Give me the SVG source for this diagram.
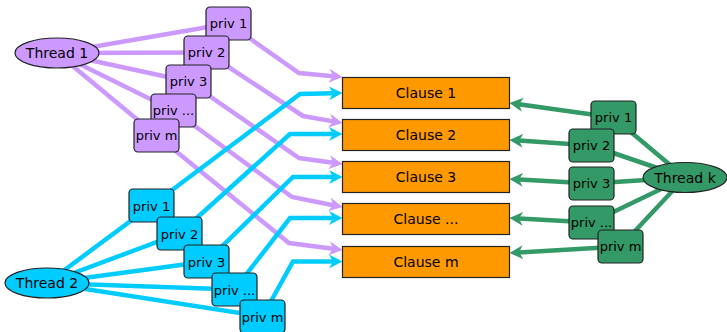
<svg xmlns="http://www.w3.org/2000/svg" width="727" height="332" viewBox="0 0 727 332">
<style>
text{font-family:"DejaVu Sans","Liberation Sans",sans-serif;fill:#000;text-anchor:middle}
.t{font-size:14px}
.p{font-size:13px}
.e{fill:none;stroke-width:4.5;stroke-linejoin:miter}
.pu{stroke:#cc99ff}
.bl{stroke:#00ccff}
.gr{stroke:#339966}
.box{stroke:#222;stroke-width:1.2}
.fpu{fill:#cc99ff}
.fbl{fill:#00ccff}
.fgr{fill:#339966}
.cl{fill:#ff9900;stroke:#222;stroke-width:1.2}
</style>
<defs>
<marker id="apu" markerUnits="userSpaceOnUse" markerWidth="15" markerHeight="16" viewBox="0 -8 15 16" refX="4" refY="0" orient="auto"><path d="M0,-7 L13.5,0 L0,7 L4,0 Z" fill="#cc99ff"/></marker>
<marker id="abl" markerUnits="userSpaceOnUse" markerWidth="15" markerHeight="16" viewBox="0 -8 15 16" refX="4" refY="0" orient="auto"><path d="M0,-7 L13.5,0 L0,7 L4,0 Z" fill="#00ccff"/></marker>
<marker id="agr" markerUnits="userSpaceOnUse" markerWidth="15" markerHeight="16" viewBox="0 -8 15 16" refX="4" refY="0" orient="auto"><path d="M0,-7 L13.5,0 L0,7 L4,0 Z" fill="#339966"/></marker>
</defs>
<g id="connectors">
<line class="e pu" x1="57" y1="53" x2="228.5" y2="23.5"/>
<line class="e pu" x1="57" y1="53" x2="206.5" y2="52.5"/>
<line class="e pu" x1="57" y1="53" x2="188.5" y2="81.5"/>
<line class="e pu" x1="57" y1="53" x2="173.5" y2="110.5"/>
<line class="e pu" x1="57" y1="53" x2="156.5" y2="135.5"/>
<line class="e bl" x1="47" y1="283" x2="151.5" y2="205.5"/>
<line class="e bl" x1="47" y1="283" x2="179.5" y2="233.5"/>
<line class="e bl" x1="47" y1="283" x2="206.5" y2="261.5"/>
<line class="e bl" x1="47" y1="283" x2="234.5" y2="289.5"/>
<line class="e bl" x1="47" y1="283" x2="262.5" y2="316.5"/>
<line class="e gr" x1="685" y1="177.5" x2="613.5" y2="117.5"/>
<line class="e gr" x1="685" y1="177.5" x2="591.5" y2="145.5"/>
<line class="e gr" x1="685" y1="177.5" x2="591.5" y2="183.5"/>
<line class="e gr" x1="685" y1="177.5" x2="591.5" y2="222.5"/>
<line class="e gr" x1="685" y1="177.5" x2="620.5" y2="246.5"/>
<polyline class="e pu" marker-end="url(#apu)" points="228.5,23.5 299,73 333,76.2"/>
<polyline class="e pu" marker-end="url(#apu)" points="206.5,52.5 303,116 333.1,121.4"/>
<polyline class="e pu" marker-end="url(#apu)" points="188.5,81.5 299,158 333.1,162.8"/>
<polyline class="e pu" marker-end="url(#apu)" points="173.5,110.5 292,197 333.2,205.2"/>
<polyline class="e pu" marker-end="url(#apu)" points="156.5,135.5 289,243 333.1,248.8"/>
<polyline class="e bl" marker-end="url(#abl)" points="151.5,205.5 300,94 333,93.2"/>
<polyline class="e bl" marker-end="url(#abl)" points="179.5,233.5 290,134 333,134"/>
<polyline class="e bl" marker-end="url(#abl)" points="206.5,261.5 293,177 333,177"/>
<polyline class="e bl" marker-end="url(#abl)" points="234.5,289.5 290,218 333,218"/>
<polyline class="e bl" marker-end="url(#abl)" points="262.5,316.5 293,261.5 333,261.5"/>
<line class="e gr" marker-end="url(#agr)" x1="613.5" y1="117.5" x2="518.9" y2="104.2"/>
<line class="e gr" marker-end="url(#agr)" x1="591.5" y1="145.5" x2="519" y2="140.6"/>
<line class="e gr" marker-end="url(#agr)" x1="591.5" y1="183.5" x2="519" y2="179.5"/>
<line class="e gr" marker-end="url(#agr)" x1="591.5" y1="222.5" x2="519" y2="218.5"/>
<line class="e gr" marker-end="url(#agr)" x1="620.5" y1="246.5" x2="519" y2="252.4"/>
</g>
<g id="clause1"><rect class="cl" x="342.5" y="77.5" width="167" height="31"/><text class="t" x="426" y="98">Clause 1</text></g>
<g id="clause2"><rect class="cl" x="342.5" y="119.5" width="167" height="31"/><text class="t" x="426" y="140">Clause 2</text></g>
<g id="clause3"><rect class="cl" x="342.5" y="161.5" width="167" height="31"/><text class="t" x="426" y="182">Clause 3</text></g>
<g id="clause4"><rect class="cl" x="342.5" y="203.5" width="167" height="31"/><text class="t" x="426" y="224">Clause ...</text></g>
<g id="clausem"><rect class="cl" x="342.5" y="246.5" width="167" height="31"/><text class="t" x="426" y="267">Clause m</text></g>
<g id="thread1"><ellipse class="box fpu" cx="57" cy="53" rx="42" ry="15"/><text class="t" x="57" y="58">Thread 1</text></g>
<g id="thread2"><ellipse class="box fbl" cx="47" cy="283" rx="42" ry="15"/><text class="t" x="47" y="288">Thread 2</text></g>
<g id="threadk"><ellipse class="box fgr" cx="685" cy="177.5" rx="42" ry="15"/><text class="t" x="685" y="182.5">Thread k</text></g>
<g id="t1priv1"><rect class="box fpu" x="206" y="7" width="45" height="33" rx="4"/><text class="p" x="228.5" y="28">priv 1</text></g>
<g id="t1priv2"><rect class="box fpu" x="184" y="36" width="45" height="33" rx="4"/><text class="p" x="206.5" y="57">priv 2</text></g>
<g id="t1priv3"><rect class="box fpu" x="166" y="65" width="45" height="33" rx="4"/><text class="p" x="188.5" y="86">priv 3</text></g>
<g id="t1priv4"><rect class="box fpu" x="151" y="94" width="45" height="33" rx="4"/><text class="p" x="173.5" y="115">priv ...</text></g>
<g id="t1privm"><rect class="box fpu" x="134" y="119" width="45" height="33" rx="4"/><text class="p" x="156.5" y="140">priv m</text></g>
<g id="t2priv1"><rect class="box fbl" x="129" y="189" width="45" height="33" rx="4"/><text class="p" x="151.5" y="210.5">priv 1</text></g>
<g id="t2priv2"><rect class="box fbl" x="157" y="217" width="45" height="33" rx="4"/><text class="p" x="179.5" y="238.5">priv 2</text></g>
<g id="t2priv3"><rect class="box fbl" x="184" y="245" width="45" height="33" rx="4"/><text class="p" x="206.5" y="266.5">priv 3</text></g>
<g id="t2priv4"><rect class="box fbl" x="212" y="273" width="45" height="33" rx="4"/><text class="p" x="234.5" y="294.5">priv ...</text></g>
<g id="t2privm"><rect class="box fbl" x="240" y="300" width="45" height="33" rx="4"/><text class="p" x="262.5" y="321.5">priv m</text></g>
<g id="tkpriv1"><rect class="box fgr" x="591" y="101" width="45" height="33" rx="4"/><text class="p" x="613.5" y="122">priv 1</text></g>
<g id="tkpriv2"><rect class="box fgr" x="569" y="129" width="45" height="33" rx="4"/><text class="p" x="591.5" y="150">priv 2</text></g>
<g id="tkpriv3"><rect class="box fgr" x="569" y="167" width="45" height="33" rx="4"/><text class="p" x="591.5" y="188">priv 3</text></g>
<g id="tkpriv4"><rect class="box fgr" x="569" y="206" width="45" height="33" rx="4"/><text class="p" x="591.5" y="227">priv ...</text></g>
<g id="tkprivm"><rect class="box fgr" x="598" y="230" width="45" height="33" rx="4"/><text class="p" x="620.5" y="251">priv m</text></g>
</svg>
